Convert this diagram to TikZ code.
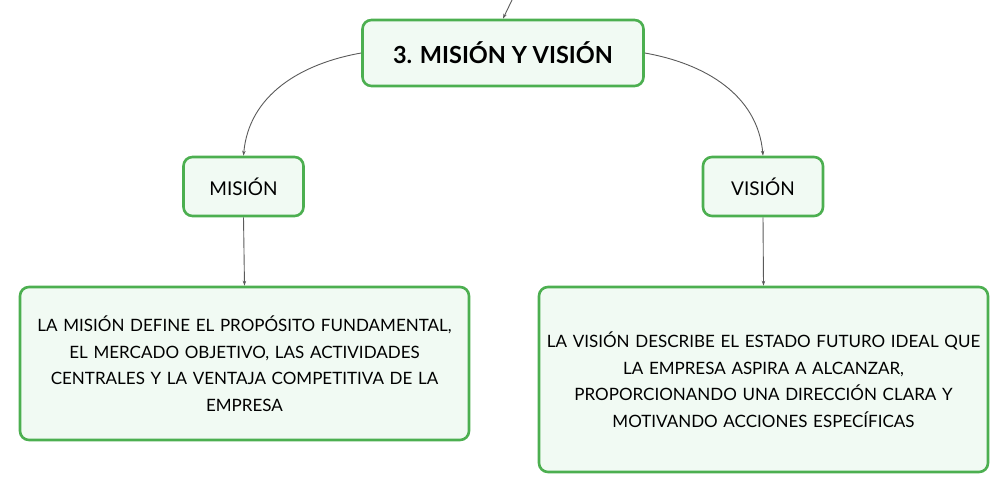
\documentclass[tikz,border=0pt]{standalone}
\usepackage{fontspec}
\setmainfont{Lato}
\usetikzlibrary{arrows.meta}
\definecolor{gborder}{HTML}{4CAF50}
\definecolor{gfill}{HTML}{F1FAF3}
\definecolor{conn}{HTML}{5A5A5A}
\begin{document}
\begin{tikzpicture}[x=1pt,y=-1pt,
  box/.style={draw=gborder, line width=2.6pt, fill=gfill, rounded corners=9pt, inner sep=0pt, align=center},
  conn/.style={draw=conn, line width=0.9pt, -{Stealth[length=5pt,width=3.5pt]}},
  every node/.style={font=\fontsize{17}{26.5}\selectfont}
]
\useasboundingbox (0,0) rectangle (1008,494);
\node[box, minimum width=281pt, minimum height=66pt, font=\fontsize{23.5}{28}\selectfont\bfseries] (top) at (503,53) {3. MISIÓN Y VISIÓN};
\node[box, minimum width=120pt, minimum height=59pt, font=\fontsize{19}{22}\selectfont] (mis) at (243.5,186.5) {MISIÓN};
\node[box, minimum width=120pt, minimum height=59pt, font=\fontsize{19}{22}\selectfont] (vis) at (763,186.5) {VISIÓN};
\node[box, minimum width=449pt, minimum height=153pt, text width=440pt] (mtext) at (244.5,363.5) {LA MISIÓN DEFINE EL PROPÓSITO FUNDAMENTAL,\\ EL MERCADO OBJETIVO, LAS ACTIVIDADES\\ CENTRALES Y LA VENTAJA COMPETITIVA DE LA\\ EMPRESA};
\node[box, minimum width=449pt, minimum height=185pt, text width=440pt] (vtext) at (763.5,379.5) {LA VISIÓN DESCRIBE EL ESTADO FUTURO IDEAL QUE\\ LA EMPRESA ASPIRA A ALCANZAR,\\ PROPORCIONANDO UNA DIRECCIÓN CLARA Y\\ MOTIVANDO ACCIONES ESPECÍFICAS};
\coordinate (src) at (512,0);
\draw[conn] (src) -- (top.north);
\draw[conn] (top.west) to[out=190,in=85] (mis.north);
\draw[conn] (top.east) to[out=-10,in=95] (vis.north);
\draw[conn] (mis.south) -- (mtext.north);
\draw[conn] (vis.south) -- (vtext.north);
\end{tikzpicture}
\end{document}
